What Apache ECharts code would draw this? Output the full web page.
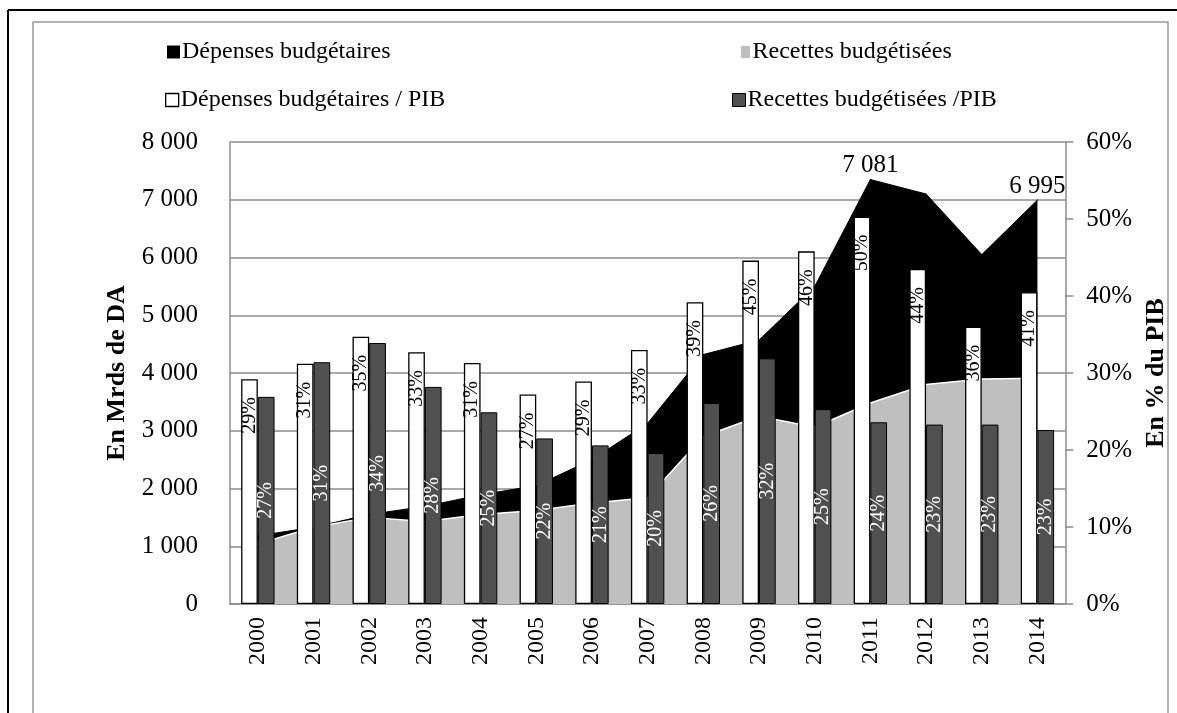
<!DOCTYPE html>
<html>
<head>
<meta charset="utf-8">
<script src="https://cdn.jsdelivr.net/npm/echarts@6/dist/echarts.min.js"></script>
<style>
  html, body { margin: 0; padding: 0; background: #fff; }
  #chart { width: 1177px; height: 713px; }
</style>
</head>
<body>
<div id="chart"></div>
<script>
// années
var years = ['2000', '2001', '2002', '2003', '2004', '2005', '2006', '2007',
             '2008', '2009', '2010', '2011', '2012', '2013', '2014'];
// Mrds de DA
var depenses = [1180, 1330, 1550, 1690, 1890, 2050, 2500, 3130, 4320, 4570, 5500, 7350, 7100, 6050, 6995];
var recettes = [1040, 1330, 1500, 1430, 1550, 1620, 1750, 1840, 2900, 3250, 3060, 3480, 3800, 3895, 3910];
// étiquettes affichées sur la courbe des dépenses
var depensesLabels = ['', '', '', '', '', '', '', '', '', '', '', '7 081', '', '', '6 995'];
// en % du PIB
var depensesPib = [0.292, 0.312, 0.347, 0.327, 0.313, 0.272, 0.289, 0.330, 0.392, 0.446, 0.458, 0.503, 0.435, 0.360, 0.405];
var recettesPib = [0.269, 0.314, 0.339, 0.282, 0.249, 0.215, 0.206, 0.196, 0.261, 0.319, 0.253, 0.236, 0.233, 0.233, 0.226];
// axes
var leftMax = 8000, leftStep = 1000;
var rightMax = 0.6, rightStep = 0.1;

var FONT = 'Liberation Serif';
var GRID_GRAY = '#8c8c8c';

function milliers(v) {
    return String(v).replace(/\B(?=(\d{3})+(?!\d))/g, ' ');
}
function pct(v) {
    return Math.round(v * 100) + '%';
}

var chart = echarts.init(document.getElementById('chart'), null, { renderer: 'canvas' });

function legendItem(name, left, top, style, w) {
    return {
        left: left, top: top,
        orient: 'horizontal',
        itemWidth: w || 13, itemHeight: 13, itemGap: 0,
        icon: 'rect',
        selectedMode: false,
        padding: 0,
        textStyle: { fontFamily: FONT, fontSize: 24, color: '#000', padding: [0, 0, 0, -3] },
        data: [{ name: name, icon: 'rect', itemStyle: style }]
    };
}

var option = {
    animation: false,
    backgroundColor: '#fff',
    textStyle: { fontFamily: FONT },
    graphic: [
        { type: 'line', shape: { x1: 8, y1: 10, x2: 1177, y2: 10 }, style: { stroke: '#000', lineWidth: 2 } },
        { type: 'line', shape: { x1: 8, y1: 10, x2: 8, y2: 713 }, style: { stroke: '#000', lineWidth: 2 } },
        { type: 'rect', shape: { x: 33, y: 22, width: 1135, height: 720 }, style: { fill: 'none', stroke: '#9a9a9a', lineWidth: 1.5 } }
    ],
    legend: [
        legendItem('Dépenses budgétaires', 167, 40, { color: '#000' }),
        legendItem('Recettes budgétisées', 740, 40, { color: '#bfbfbf', borderColor: '#fff', borderWidth: 1 }, 10),
        legendItem('Dépenses budgétaires / PIB', 165, 88, { color: '#fff', borderColor: '#000', borderWidth: 1.3 }),
        legendItem('Recettes budgétisées /PIB', 732, 88, { color: '#505050', borderColor: '#000', borderWidth: 1 })
    ],
    grid: { left: 230, right: 96, top: 142, bottom: 109, containLabel: false },
    xAxis: {
        type: 'category',
        data: years,
        boundaryGap: true,
        axisLine: { show: true, lineStyle: { color: GRID_GRAY, width: 1.5 } },
        axisTick: { show: false },
        axisLabel: { rotate: 90, margin: 13, fontFamily: FONT, fontSize: 24, color: '#000' }
    },
    yAxis: [
        {
            type: 'value', min: 0, max: leftMax, interval: leftStep,
            name: 'En Mrds de DA', nameLocation: 'middle', nameGap: 100, nameRotate: 90,
            nameTextStyle: { fontFamily: FONT, fontSize: 26, fontWeight: 'bold', color: '#000' },
            axisLine: { show: true, lineStyle: { color: GRID_GRAY, width: 1.5 } },
            axisTick: { show: false },
            splitLine: { show: true, lineStyle: { color: GRID_GRAY, width: 1.5 } },
            axisLabel: { margin: 32, fontFamily: FONT, fontSize: 25, color: '#000', formatter: milliers }
        },
        {
            type: 'value', min: 0, max: rightMax, interval: rightStep,
            name: 'En % du PIB', nameLocation: 'middle', nameGap: 76, nameRotate: 90,
            nameTextStyle: { fontFamily: FONT, fontSize: 26, fontWeight: 'bold', color: '#000' },
            axisLine: { show: true, lineStyle: { color: GRID_GRAY, width: 1.5 } },
            axisTick: { show: true, inside: false, length: 8, lineStyle: { color: GRID_GRAY, width: 1.5 } },
            splitLine: { show: false },
            axisLabel: { margin: 21, fontFamily: FONT, fontSize: 25, color: '#000', formatter: pct }
        }
    ],
    series: [
        {
            name: 'Dépenses budgétaires',
            type: 'line',
            data: depenses,
            yAxisIndex: 0,
            z: 1,
            symbol: 'circle', symbolSize: 1, showSymbol: true,
            itemStyle: { color: '#000' },
            lineStyle: { color: '#000', width: 1 },
            areaStyle: { color: '#000', opacity: 1 },
            label: {
                show: true, position: 'top', distance: 1,
                fontFamily: FONT, fontSize: 25, color: '#000',
                formatter: function (p) { return depensesLabels[p.dataIndex]; }
            },
            emphasis: { disabled: true }
        },
        {
            name: 'Recettes budgétisées',
            type: 'line',
            data: recettes,
            yAxisIndex: 0,
            z: 2,
            symbol: 'none',
            itemStyle: { color: '#bfbfbf' },
            lineStyle: { color: '#fff', width: 1.5 },
            areaStyle: { color: '#bfbfbf', opacity: 1 },
            emphasis: { disabled: true }
        },
        {
            name: 'Dépenses budgétaires / PIB',
            type: 'bar',
            data: depensesPib,
            yAxisIndex: 1,
            z: 3,
            barWidth: 16.7,
            barGap: '0%',
            itemStyle: { color: '#fff', borderColor: '#000', borderWidth: 1.3 },
            label: {
                show: true, position: 'insideTop', distance: 18, rotate: 90,
                align: 'right', verticalAlign: 'middle',
                fontFamily: FONT, fontSize: 20, color: '#000',
                formatter: function (p) { return pct(p.value); }
            },
            emphasis: { disabled: true }
        },
        {
            name: 'Recettes budgétisées /PIB',
            type: 'bar',
            data: recettesPib,
            yAxisIndex: 1,
            z: 3,
            barWidth: 16.7,
            barGap: '0%',
            itemStyle: { color: '#505050', borderColor: '#000', borderWidth: 1 },
            label: {
                show: true, position: 'inside', rotate: 90,
                align: 'center', verticalAlign: 'middle',
                fontFamily: FONT, fontSize: 20, color: '#fff',
                formatter: function (p) { return pct(p.value); }
            },
            emphasis: { disabled: true }
        }
    ]
};

chart.setOption(option);
</script>
</body>
</html>
